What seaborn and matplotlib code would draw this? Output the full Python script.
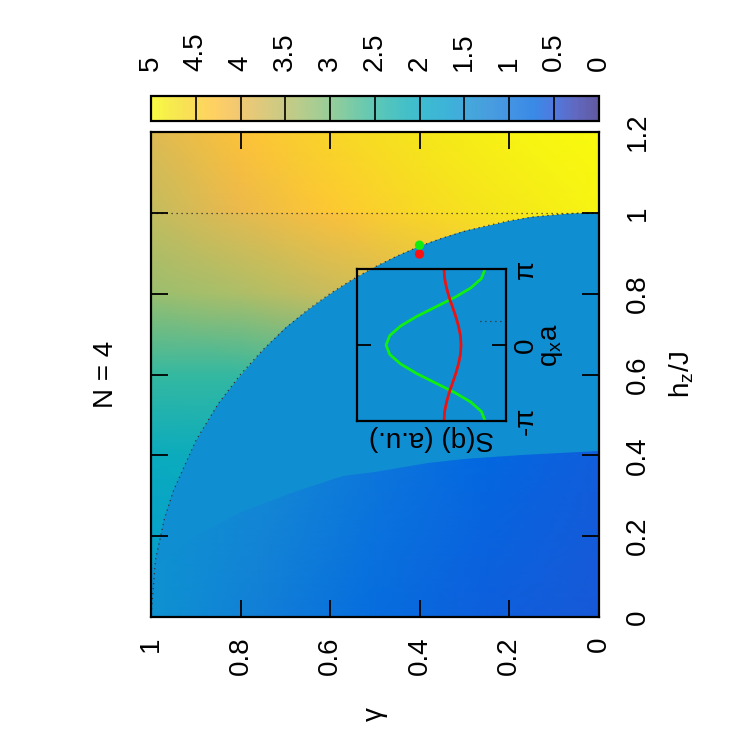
import numpy as np
import matplotlib
matplotlib.use("Agg")
import matplotlib.pyplot as plt
from matplotlib.colors import LinearSegmentedColormap, Normalize
from matplotlib.patches import Polygon
import seaborn as sns

# ---------------- data ----------------
# parula-like palette anchors
parula_colors = [
    (0.2081, 0.1663, 0.5292), (0.2081, 0.2386, 0.6771), (0.1253, 0.3242, 0.8303),
    (0.0060, 0.4086, 0.8828), (0.0498, 0.4586, 0.8641), (0.0779, 0.5040, 0.8384),
    (0.0641, 0.5570, 0.8240), (0.0265, 0.6137, 0.8135), (0.0228, 0.6535, 0.7768),
    (0.0590, 0.6838, 0.7254), (0.1453, 0.7098, 0.6646), (0.2586, 0.7317, 0.5954),
    (0.3953, 0.7459, 0.5244), (0.5300, 0.7491, 0.4661), (0.6473, 0.7456, 0.4188),
    (0.7525, 0.7384, 0.3768), (0.8507, 0.7299, 0.3360), (0.9450, 0.7261, 0.2886),
    (0.9990, 0.7653, 0.2164), (0.9789, 0.8271, 0.1633), (0.9589, 0.8949, 0.1132),
    (0.9763, 0.9831, 0.0538),
]

# Region above h/J = 1
gamma_A = [0.0, 0.2, 0.4, 0.6, 0.8, 1.0]
h_A = [1.0, 1.2]
val_A = [[4.93, 4.80, 4.60, 4.35, 4.00, 3.60],
         [5.00, 4.92, 4.78, 4.55, 4.25, 3.85]]

# Region between the critical circle and h/J = 1
gamma_B = [0.0, 0.2, 0.4, 0.6, 0.8, 1.0]
h_B = [0.0, 0.2, 0.4, 0.6, 0.8, 1.0]
val_B = [[2.10, 2.00, 1.90, 1.80, 1.70, 1.60],
         [2.30, 2.20, 2.10, 2.00, 1.90, 1.80],
         [2.80, 2.60, 2.40, 2.20, 2.10, 2.05],
         [3.30, 3.10, 2.90, 2.70, 2.50, 2.50],
         [4.30, 4.10, 3.90, 3.65, 3.40, 3.25],
         [4.92, 4.78, 4.55, 4.20, 3.90, 3.60]]

# Uniform phase value
value_C = 1.43

# Low-field region
gamma_D = [0.0, 0.25, 0.5, 0.75, 1.0]
h_D = [0.0, 0.2, 0.42]
val_D = [[0.55, 0.62, 0.82, 1.15, 1.50],
         [0.57, 0.66, 0.90, 1.25, 1.50],
         [0.60, 0.72, 1.00, 1.35, 1.45]]

# Phase boundaries
bound_gamma = [0.0, 0.05, 0.10, 0.15, 0.20, 0.25, 0.30, 0.35, 0.40, 0.45, 0.50,
               0.55, 0.60, 0.65, 0.70, 0.75, 0.80, 0.85, 0.90, 0.95, 0.97, 0.99, 1.0]
bound_h = [1.000, 0.999, 0.995, 0.989, 0.980, 0.968, 0.954, 0.937, 0.917, 0.893, 0.866,
           0.835, 0.800, 0.760, 0.714, 0.661, 0.600, 0.527, 0.436, 0.312, 0.243, 0.141, 0.0]
boundD_gamma = [0.0, 0.17, 0.30, 0.38, 0.50, 0.57, 0.68, 0.80, 0.90, 1.0]
boundD_h = [0.41, 0.40, 0.39, 0.38, 0.36, 0.35, 0.31, 0.26, 0.20, 0.12]
h_line = 1.0

# Marked points
pt_gamma = [0.40, 0.40]
pt_h = [0.92, 0.898]

# Inset structure factors
q_vals = [-1.0, -0.875, -0.75, -0.625, -0.5, -0.375, -0.25, -0.125, 0.0,
          0.125, 0.25, 0.375, 0.5, 0.625, 0.75, 0.875, 1.0]  # units of pi
S_green = [0.140, 0.165, 0.237, 0.345, 0.473, 0.600, 0.707, 0.780, 0.805,
           0.780, 0.707, 0.600, 0.473, 0.345, 0.237, 0.165, 0.140]
S_red = [0.416, 0.412, 0.399, 0.381, 0.359, 0.337, 0.319, 0.306, 0.302,
         0.306, 0.319, 0.337, 0.359, 0.381, 0.399, 0.412, 0.416]
inset_dot_S = [0.0, 0.19]
inset_dot_q = [0.316, 0.316]

gamma_ticks = [0, 0.2, 0.4, 0.6, 0.8, 1.0]
gamma_ticklabels = ["0", "0.2", "0.4", "0.6", "0.8", "1"]
h_ticks = [0, 0.2, 0.4, 0.6, 0.8, 1.0, 1.2]
h_ticklabels = ["0", "0.2", "0.4", "0.6", "0.8", "1", "1.2"]
cbar_ticks = [0, 0.5, 1, 1.5, 2, 2.5, 3, 3.5, 4, 4.5, 5]
cbar_ticklabels = ["0", "0.5", "1", "1.5", "2", "2.5", "3", "3.5", "4", "4.5", "5"]
q_ticks = [-1.0, 0.0, 1.0]
q_ticklabels = ["-π", "0", "π"]

# ---------------- style ----------------
sns.set_theme(style="white")
plt.rcParams["font.family"] = ["Liberation Sans", "DejaVu Sans"]
plt.rcParams["mathtext.fontset"] = "custom"
plt.rcParams["mathtext.rm"] = "Liberation Sans"
plt.rcParams["mathtext.it"] = "Liberation Sans:italic"
plt.rcParams["axes.axisbelow"] = False
plt.rcParams["text.color"] = "black"
plt.rcParams["axes.labelcolor"] = "black"
plt.rcParams["xtick.color"] = "black"
plt.rcParams["ytick.color"] = "black"
plt.rcParams["xtick.labelcolor"] = "black"
plt.rcParams["ytick.labelcolor"] = "black"
FS = 20

W = H = 750.0
fig = plt.figure(figsize=(7.5, 7.5), dpi=100)
fig.patch.set_facecolor("white")

cmap = LinearSegmentedColormap.from_list("parula", parula_colors, N=512)
norm = Normalize(0, 5)

ax = fig.add_axes([151 / W, 1 - 617 / H, 447.5 / W, 485 / H])
ax.set_axisbelow(False)

# uniform phase (background)
GC, HC = np.meshgrid([0.0, 1.0], [0.0, 1.2])
ax.pcolormesh(GC, HC, np.full(GC.shape, value_C), cmap=cmap, norm=norm,
              shading="gouraud", zorder=0)
# h > 1 region
GA, HA = np.meshgrid(gamma_A, h_A)
ax.pcolormesh(GA, HA, np.array(val_A), cmap=cmap, norm=norm, shading="gouraud", zorder=0.2)
# ordered region above circle
GB, HB = np.meshgrid(gamma_B, h_B)
mB = ax.pcolormesh(GB, HB, np.array(val_B), cmap=cmap, norm=norm, shading="gouraud", zorder=0.2)
polyB = Polygon(list(zip(bound_gamma, bound_h)) + [(1.0, h_line)], closed=True,
                transform=ax.transData)
mB.set_clip_path(polyB)
# low field region
GD, HD = np.meshgrid(gamma_D, h_D)
mD = ax.pcolormesh(GD, HD, np.array(val_D), cmap=cmap, norm=norm, shading="gouraud", zorder=0.2)
polyD = Polygon(list(zip(boundD_gamma, boundD_h)) + [(1.0, 0.0), (0.0, 0.0)], closed=True,
                transform=ax.transData)
mD.set_clip_path(polyD)

# dotted lines
sns.lineplot(x=bound_gamma, y=bound_h, sort=False, estimator=None, ax=ax,
             color="#333333", lw=0.9, linestyle=(0, (1, 3)), zorder=1)
ax.axhline(h_line, color="#333333", lw=0.9, linestyle=(0, (1, 3)), zorder=1)

# marked points
sns.scatterplot(x=pt_gamma[1:], y=pt_h[1:], color="#ff1010", s=45, edgecolor="none",
                ax=ax, zorder=1.5)
sns.scatterplot(x=pt_gamma[:1], y=pt_h[:1], color="#10ee10", s=45, edgecolor="none",
                ax=ax, zorder=1.5)

ax.set_xlim(1.0, 0.0)
ax.set_ylim(0.0, 1.2)
ax.set_xticks(gamma_ticks)
ax.set_xticklabels(gamma_ticklabels)
ax.set_yticks(h_ticks)
ax.set_yticklabels(h_ticklabels)
ax.tick_params(axis="x", which="both", bottom=True, top=True, direction="in", length=12,
               width=1.3, color="black", labelcolor="black", labelsize=FS,
               labelrotation=90, pad=14)
ax.tick_params(axis="y", which="both", left=True, right=True, labelleft=False,
               labelright=True, direction="in", length=12, width=1.3, color="black",
               labelcolor="black", labelsize=FS, labelrotation=90, pad=19)
for lbl in ax.get_yticklabels():
    lbl.set_va("center")
for sp in ax.spines.values():
    sp.set_linewidth(1.6)
    sp.set_color("black")
    sp.set_zorder(6)
ax.set_xlabel("γ", rotation=90, fontsize=FS, labelpad=23, color="black")
ax.yaxis.set_label_position("right")
ax.set_ylabel(r"$\mathrm{h_z/J}$", rotation=90, fontsize=FS, labelpad=12, color="black")
ax.text(-0.10, 0.5, "N = 4", transform=ax.transAxes, rotation=90, ha="center",
        va="center", fontsize=FS, color="black")

# ---------------- inset ----------------
axin = fig.add_axes([357 / W, 1 - 421 / H, 149 / W, 152 / H])
axin.set_facecolor("none")
axin.patch.set_alpha(0)
axin.set_axisbelow(False)
sns.lineplot(x=S_green, y=q_vals, sort=False, estimator=None, color="#11ee11", lw=2.0, ax=axin)
sns.lineplot(x=S_red, y=q_vals, sort=False, estimator=None, color="#ee1111", lw=2.0, ax=axin)
sns.lineplot(x=inset_dot_S, y=inset_dot_q, sort=False, estimator=None, color="#333333",
             lw=0.9, linestyle=(0, (1, 3)), ax=axin)
axin.set_xlim(1.0, 0.0)
axin.set_ylim(-1.0, 1.0)
axin.set_xticks([])
axin.set_yticks(q_ticks)
axin.set_yticklabels(q_ticklabels)
axin.tick_params(axis="y", left=True, right=True, labelleft=False, labelright=True,
                 direction="in", length=10, width=1.3, color="black", labelcolor="black",
                 labelsize=FS, labelrotation=90, pad=5)
for lbl in axin.get_yticklabels():
    lbl.set_va("center")
for sp in axin.spines.values():
    sp.set_linewidth(1.6)
    sp.set_color("black")
axin.set_xlabel("S(q) (a.u.)", rotation=180, fontsize=FS, labelpad=3, color="black")
axin.yaxis.set_label_position("right")
axin.set_ylabel(r"$\mathrm{q_x a}$", rotation=90, fontsize=FS, labelpad=0, color="black")

# ---------------- colorbar ----------------
cax = fig.add_axes([151 / W, 1 - 121 / H, 447.5 / W, 25 / H])
sm = plt.cm.ScalarMappable(norm=norm, cmap=cmap)
cb = fig.colorbar(sm, cax=cax, orientation="horizontal", alpha=0.78)
cb.set_ticks(cbar_ticks)
cb.set_ticklabels(cbar_ticklabels)
cax.invert_xaxis()
cax.xaxis.set_ticks_position("top")
cax.tick_params(axis="x", which="both", top=True, bottom=False, labeltop=True,
                labelbottom=False, direction="in", length=18, width=1.2, color="black",
                labelcolor="black", labelsize=FS, labelrotation=90, pad=18)
cax.minorticks_off()
cb.outline.set_linewidth(1.6)
cb.outline.set_edgecolor("black")

fig.savefig("out.png", dpi=100, facecolor="white")
